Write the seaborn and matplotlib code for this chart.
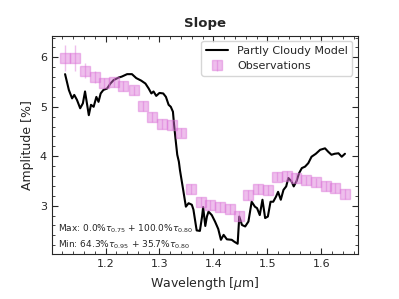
import numpy as np
import pandas as pd
import matplotlib
matplotlib.use('Agg')
import matplotlib.pyplot as plt
import seaborn as sns
from matplotlib.ticker import MultipleLocator

sns.set_style('ticks')
plt.rcParams['font.family'] = ['DejaVu Sans']

#partly cloudy model curve
model_wave = [1.125, 1.132, 1.138, 1.142, 1.147, 1.153, 1.158, 1.162, 1.169, 1.173,
              1.178, 1.183, 1.187, 1.191, 1.196, 1.203, 1.209, 1.215, 1.224, 1.230,
              1.240, 1.249, 1.257, 1.266, 1.274, 1.280, 1.285, 1.289, 1.294, 1.300,
              1.307, 1.312, 1.317, 1.321, 1.325, 1.327, 1.330, 1.333, 1.336, 1.338,
              1.341, 1.344, 1.349, 1.354, 1.360, 1.363, 1.366, 1.369, 1.375, 1.379,
              1.381, 1.385, 1.388, 1.391, 1.397, 1.403, 1.409, 1.414, 1.419, 1.425,
              1.434, 1.439, 1.445, 1.448, 1.453, 1.459, 1.465, 1.471, 1.477, 1.481,
              1.486, 1.491, 1.496, 1.501, 1.506, 1.511, 1.516, 1.520, 1.525, 1.530,
              1.535, 1.539, 1.545, 1.549, 1.554, 1.559, 1.564, 1.570, 1.576, 1.582,
              1.590, 1.598, 1.607, 1.613, 1.619, 1.625, 1.632, 1.638, 1.644]
model_amp = [5.66, 5.34, 5.17, 5.24, 5.14, 4.97, 5.07, 5.31, 4.83, 5.04,
             5.00, 5.20, 5.10, 5.27, 5.34, 5.37, 5.47, 5.54, 5.59, 5.61,
             5.66, 5.66, 5.58, 5.53, 5.47, 5.37, 5.27, 5.31, 5.22, 5.28,
             5.27, 5.20, 5.04, 5.00, 4.90, 4.65, 4.33, 4.03, 3.89, 3.72,
             3.52, 3.32, 2.98, 3.05, 3.02, 2.92, 2.71, 2.50, 2.49, 2.78,
             2.97, 2.59, 2.78, 2.88, 2.81, 2.68, 2.53, 2.31, 2.41, 2.32,
             2.31, 2.27, 2.23, 2.78, 2.61, 2.58, 2.68, 3.08, 2.98, 2.95,
             2.81, 3.12, 2.75, 2.78, 3.08, 3.08, 3.18, 3.28, 3.12, 3.32,
             3.39, 3.56, 3.49, 3.39, 3.49, 3.66, 3.76, 3.79, 3.86, 3.99,
             4.05, 4.13, 4.16, 4.09, 4.03, 4.05, 4.06, 3.99, 4.05]

#observed amplitudes per wavelength bin
obs_wave = [1.125, 1.144, 1.162, 1.180, 1.198, 1.215, 1.232, 1.252, 1.269, 1.286,
            1.304, 1.323, 1.340, 1.358, 1.377, 1.394, 1.412, 1.430, 1.448, 1.465,
            1.483, 1.502, 1.518, 1.537, 1.554, 1.572, 1.590, 1.609, 1.625, 1.644]
obs_amp = [5.98, 5.98, 5.73, 5.61, 5.49, 5.50, 5.42, 5.33, 5.02, 4.79,
           4.65, 4.63, 4.48, 3.33, 3.08, 3.02, 2.97, 2.93, 2.80, 3.22,
           3.33, 3.32, 3.59, 3.61, 3.56, 3.51, 3.47, 3.40, 3.35, 3.23]
obs_err = [0.26, 0.26, 0.15, 0.12, 0.1, 0.1, 0.1, 0.1, 0.1, 0.1,
           0.1, 0.1, 0.1, 0.1, 0.1, 0.1, 0.1, 0.1, 0.1, 0.1,
           0.1, 0.1, 0.1, 0.1, 0.1, 0.1, 0.1, 0.1, 0.1, 0.1]

model = pd.DataFrame({'wave': model_wave, 'amp': model_amp})

fig, ax = plt.subplots(figsize=(3.99, 2.99), dpi=100)
fig.subplots_adjust(left=0.130, right=0.897, top=0.881, bottom=0.150)

sns.lineplot(x='wave', y='amp', data=model, color='black', lw=1.5,
             label='Partly Cloudy Model', ax=ax)
ax.errorbar(obs_wave, obs_amp, yerr=obs_err, fmt='s', color='orchid', alpha=0.45,
            ms=7.5, elinewidth=1, label='Observations')

ax.set_xlim(1.1005, 1.668)
ax.set_ylim(2.02, 6.44)
ax.xaxis.set_major_locator(MultipleLocator(0.1))
ax.xaxis.set_minor_locator(MultipleLocator(0.02))
ax.yaxis.set_major_locator(MultipleLocator(1))
ax.yaxis.set_minor_locator(MultipleLocator(0.2))
ax.tick_params(which='both', direction='in', top=True, right=True, labelsize=8)
ax.tick_params(which='major', length=4)
ax.tick_params(which='minor', length=2)

ax.set_title('Slope', fontsize=9.5, fontweight='bold')
ax.set_xlabel(r'Wavelength [$\mu$m]', fontsize=9)
ax.set_ylabel('Amplitude [%]', fontsize=9)

ax.text(0.02, 0.115, r'Max: 0.0%$\tau_{0.75}$ + 100.0%$\tau_{0.80}$', transform=ax.transAxes,
        fontsize=6.5, va='center')
ax.text(0.02, 0.045, r'Min: 64.3%$\tau_{0.95}$ + 35.7%$\tau_{0.80}$', transform=ax.transAxes,
        fontsize=6.5, va='center')

ax.legend(loc='upper right', fontsize=8)

fig.savefig('out.png', dpi=100)
